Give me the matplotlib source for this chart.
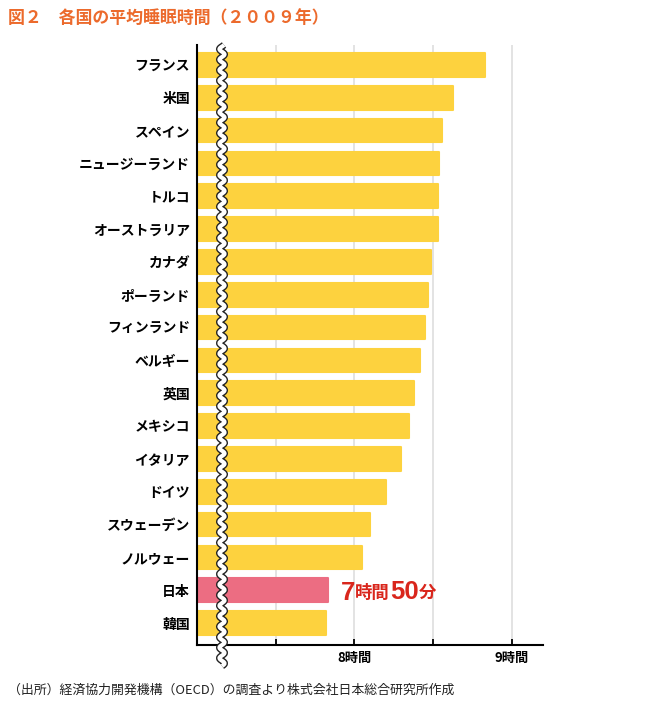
import matplotlib
matplotlib.use('Agg')
import matplotlib.pyplot as plt
import numpy as np

plt.rcParams['font.family'] = ['Noto Sans CJK JP', 'DejaVu Sans']

# ─── data: average sleep time (hours), OECD 2009 ───
countries = ['フランス', '米国', 'スペイン', 'ニュージーランド', 'トルコ',
             'オーストラリア', 'カナダ', 'ポーランド', 'フィンランド', 'ベルギー',
             '英国', 'メキシコ', 'イタリア', 'ドイツ', 'スウェーデン', 'ノルウェー',
             '日本', '韓国']
hours = [8.83, 8.63, 8.56, 8.54, 8.53, 8.53, 8.49, 8.47, 8.45, 8.42,
         8.38, 8.35, 8.30, 8.20, 8.10, 8.05, 7.83, 7.82]
highlight = '日本'
tick_vals = [7.5, 8.0, 8.5, 9.0]
tick_labels = ['', '8時間', '', '9時間']

C_BAR = '#FDD23E'
C_JP = '#EC6D82'
C_RED = '#D9261C'
C_TITLE = '#EC6A2C'
C_GRID = '#E3E3E3'

fig = plt.figure(figsize=(6.5, 7.24), dpi=100)
ax = fig.add_axes([197 / 650, 1 - 645 / 724, 346 / 650, 600 / 724])

y = np.arange(len(countries))
colors = [C_JP if c == highlight else C_BAR for c in countries]
ax.barh(y, hours, height=0.72, color=colors, edgecolor=colors,
        linewidth=1.5, joinstyle='round', zorder=2)

ax.set_xlim(7.0, 9.2)
ax.set_ylim(len(countries) - 1 + 0.67, -0.61)

for v in tick_vals:
    ax.axvline(v, color=C_GRID, lw=1.4, zorder=1)

ax.set_xticks(tick_vals)
ax.set_xticklabels(tick_labels, fontsize=9.5, fontweight='bold')
ax.tick_params(axis='x', direction='in', length=4, width=1.3, pad=4, colors='black')
ax.set_yticks(y)
ax.set_yticklabels(countries, fontsize=10, fontweight='bold')
ax.tick_params(axis='y', length=0, pad=5)

for s in ['top', 'right']:
    ax.spines[s].set_visible(False)
for s in ['left', 'bottom']:
    ax.spines[s].set_linewidth(1.5)
    ax.spines[s].set_zorder(4)

# axis break (wavy line)
yy = np.linspace(1.0, -0.035, 600)
xx = 25 / 346 + 2.6 / 346 * np.sin(yy * 600 / 10.5 * 2 * np.pi)
ax.plot(xx, yy, transform=ax.transAxes, color='#222222', lw=5.0,
        clip_on=False, zorder=5, solid_capstyle='butt')
ax.plot(xx, yy, transform=ax.transAxes, color='white', lw=3.0,
        clip_on=False, zorder=6, solid_capstyle='butt')

# Japan annotation: 7時間50分
jp = countries.index(highlight)
t1 = ax.text(7.915, jp + 0.08, '7', fontsize=18.5, fontweight='bold', color=C_RED,
             va='center', ha='left', family=['Liberation Sans', 'DejaVu Sans'])
t2 = ax.annotate('時間', xy=(1, 0.1), xycoords=t1, fontsize=12.5, fontweight='bold',
                 color=C_RED, va='bottom', ha='left')
t3 = ax.annotate('50', xy=(1, -0.1), xycoords=t2, fontsize=18.5, fontweight='bold',
                 color=C_RED, va='bottom', ha='left',
                 family=['Liberation Sans', 'DejaVu Sans'])
ax.annotate('分', xy=(1, 0.1), xycoords=t3, fontsize=12.5, fontweight='bold',
            color=C_RED, va='bottom', ha='left')

fig.text(8 / 650, 1 - 18 / 724, '図２　各国の平均睡眠時間（２００９年）', fontsize=12.2,
         fontweight='bold', color=C_TITLE, va='center', ha='left')
fig.text(8 / 650, 1 - 690 / 724,
         '（出所）経済協力開発機構（OECD）の調査より株式会社日本総合研究所作成',
         fontsize=9.3, color='#222222', va='center', ha='left')

fig.savefig('out.png', dpi=100)
